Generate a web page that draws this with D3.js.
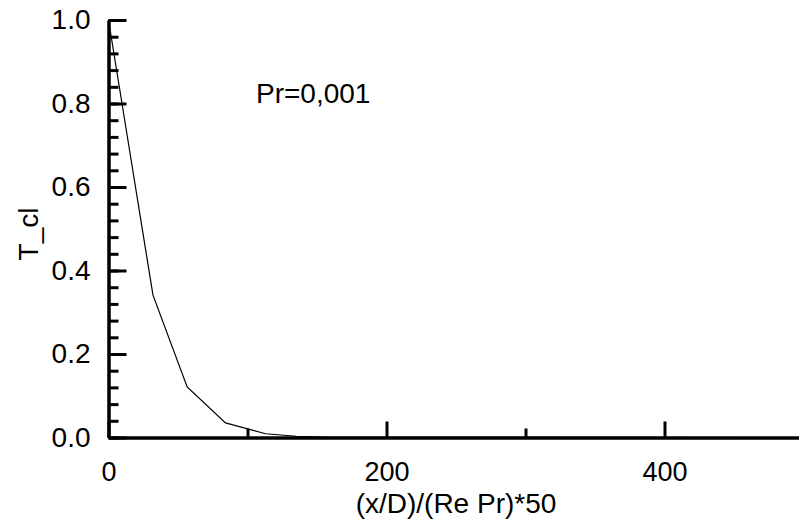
<!DOCTYPE html>
<html>
<head>
<meta charset="utf-8">
<script src="https://cdn.jsdelivr.net/npm/d3@7"></script>
<style>
  body { margin: 0; background: #fff; }
  svg { display: block; }
  text { font-family: "Liberation Sans", Arial, sans-serif; fill: #000; }
</style>
</head>
<body>
<svg id="chart" width="799" height="523"></svg>
<script>
// centreline temperature vs. scaled axial distance
let xVals = [0, 32, 56.6, 84.2, 113, 135, 160, 500];
let yVals = [1.0, 0.341, 0.121, 0.035, 0.009, 0.003, 0.0005, 0];

let xMajor = [0, 200, 400];
let xMinor = [100, 300];
let yMajor = [0, 0.2, 0.4, 0.6, 0.8, 1.0];
let yMinor = d3.range(0, 1.0001, 0.04);

let xTitle = "(x/D)/(Re Pr)*50",
    yTitle = "T_cl",
    note = "Pr=0,001";

let svg = d3.select("#chart");

let xScale = d3.scaleLinear().domain([0, 500]).range([108.5, 803.5]);
let yScale = d3.scaleLinear().domain([0, 1]).range([437.5, 20]);

// y axis: minor then major
svg.append("g")
   .attr("transform", `translate(${xScale(0)},0)`)
   .call(d3.axisLeft(yScale).tickValues(yMinor).tickSize(-10).tickSizeOuter(0).tickFormat(""))
   .call(g => g.select(".domain").remove())
   .selectAll("line").attr("stroke-width", 3);

let yAxis = svg.append("g")
   .attr("transform", `translate(${xScale(0)},0)`)
   .call(d3.axisLeft(yScale).tickValues(yMajor).tickSize(-18).tickSizeOuter(0)
           .tickPadding(18).tickFormat(d3.format(".1f")));
yAxis.select(".domain").attr("stroke-width", 3.5);
yAxis.selectAll("line").attr("stroke-width", 3);
yAxis.selectAll("text").attr("font-size", 28).attr("font-family", null);

// x axis
svg.append("g")
   .attr("transform", `translate(0,${yScale(0)})`)
   .call(d3.axisBottom(xScale).tickValues(xMinor).tickSize(-9).tickSizeOuter(0).tickFormat(""))
   .call(g => g.select(".domain").remove())
   .selectAll("line").attr("stroke-width", 3);

let xAxis = svg.append("g")
   .attr("transform", `translate(0,${yScale(0)})`)
   .call(d3.axisBottom(xScale).tickValues(xMajor).tickSize(-16).tickSizeOuter(0)
           .tickPadding(24).tickFormat(d3.format("d")));
xAxis.select(".domain").attr("stroke-width", 3.5);
xAxis.selectAll("line").attr("stroke-width", 3);
xAxis.selectAll("text").attr("font-size", 27).attr("font-family", null);

// curve
let line = d3.line()
             .x((d, i) => xScale(xVals[i]))
             .y(d => yScale(d));

svg.append("path")
   .datum(yVals)
   .attr("d", line)
   .attr("fill", "none")
   .attr("stroke", "#000")
   .attr("stroke-width", 1.2);

// titles
svg.append("text")
   .attr("x", 456)
   .attr("y", 513)
   .attr("text-anchor", "middle")
   .attr("font-size", 28)
   .text(xTitle);

svg.append("text")
   .attr("transform", "translate(38,234) rotate(-90)")
   .attr("text-anchor", "middle")
   .attr("font-size", 28)
   .text(yTitle);

svg.append("text")
   .attr("x", 256)
   .attr("y", 103)
   .attr("font-size", 28)
   .text(note);
</script>
</body>
</html>
